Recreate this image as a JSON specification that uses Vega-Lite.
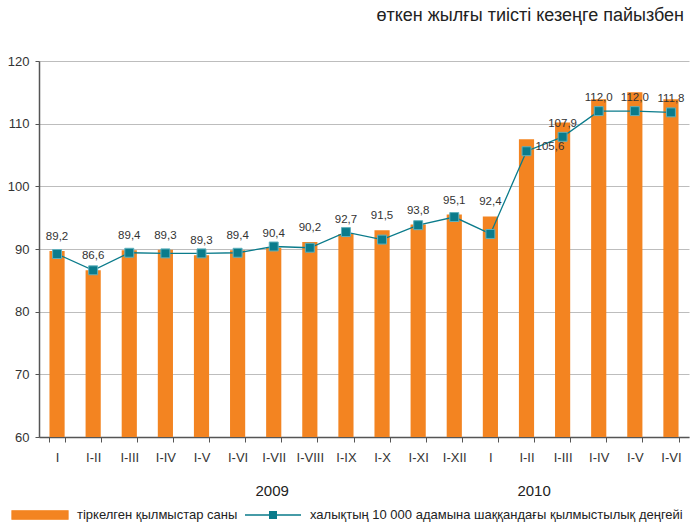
{
  "$schema": "https://vega.github.io/schema/vega-lite/v6.json",
  "width": 650,
  "height": 376,
  "autosize": {"type": "none"},
  "padding": {"left": 39, "top": 61, "right": 2, "bottom": 85},
  "background": "white",
  "title": {
    "text": "өткен жылғы тиісті кезеңге пайызбен",
    "anchor": "end",
    "frame": "group",
    "fontSize": 18,
    "fontWeight": "normal",
    "font": "Liberation Sans",
    "color": "#222222",
    "offset": 30,
    "dx": -5
  },
  "config": {
    "view": {"stroke": null},
    "font": "Liberation Sans",
    "locale": {"number": {"decimal": ",", "thousands": " ", "grouping": [3], "currency": ["", ""]}}
  },
  "data": {
    "values": [
      {"key": "2009|I", "year": "2009", "bar": 89.7, "line": 89.2},
      {"key": "2009|I-II", "year": "2009", "bar": 86.6, "line": 86.6},
      {"key": "2009|I-III", "year": "2009", "bar": 89.8, "line": 89.4},
      {"key": "2009|I-IV", "year": "2009", "bar": 89.9, "line": 89.3},
      {"key": "2009|I-V", "year": "2009", "bar": 89.0, "line": 89.3},
      {"key": "2009|I-VI", "year": "2009", "bar": 89.8, "line": 89.4},
      {"key": "2009|I-VII", "year": "2009", "bar": 90.2, "line": 90.4},
      {"key": "2009|I-VIII", "year": "2009", "bar": 91.1, "line": 90.2},
      {"key": "2009|I-IX", "year": "2009", "bar": 92.4, "line": 92.7},
      {"key": "2009|I-X", "year": "2009", "bar": 93.0, "line": 91.5},
      {"key": "2009|I-XI", "year": "2009", "bar": 93.9, "line": 93.8},
      {"key": "2009|I-XII", "year": "2009", "bar": 95.5, "line": 95.1},
      {"key": "2010|I", "year": "2010", "bar": 95.2, "line": 92.4},
      {"key": "2010|I-II", "year": "2010", "bar": 107.5, "line": 105.6},
      {"key": "2010|I-III", "year": "2010", "bar": 110.2, "line": 107.9},
      {"key": "2010|I-IV", "year": "2010", "bar": 113.9, "line": 112.0},
      {"key": "2010|I-V", "year": "2010", "bar": 115.0, "line": 112.0},
      {"key": "2010|I-VI", "year": "2010", "bar": 113.9, "line": 111.8}
    ]
  },
  "encoding": {
    "x": {
      "field": "key",
      "type": "ordinal",
      "sort": null,
      "scale": {"paddingInner": 0.58, "paddingOuter": 0.29},
      "axis": {
        "title": null,
        "labelExpr": "split(datum.value, '|')[1]",
        "labelAngle": 0,
        "labelFontSize": 13,
        "labelColor": "#333333",
        "labelPadding": 9,
        "tickBand": "extent",
        "tickSize": 5,
        "tickColor": "#555555",
        "domainColor": "#555555",
        "domainWidth": 1.5,
        "grid": false
      }
    }
  },
  "layer": [
    {
      "mark": {"type": "bar", "color": "#f38421", "clip": true},
      "encoding": {
        "y": {
          "field": "bar",
          "type": "quantitative",
          "scale": {"domain": [60, 120], "zero": false},
          "axis": {
            "title": null,
            "values": [60, 70, 80, 90, 100, 110, 120],
            "labelFontSize": 13,
            "labelColor": "#333333",
            "labelPadding": 6,
            "tickSize": 4,
            "tickColor": "#555555",
            "domainColor": "#555555",
            "domainWidth": 1.5,
            "gridColor": "#bdbdbd",
            "gridWidth": 1.2
          }
        },
        "color": {
          "datum": "тіркелген қылмыстар саны",
          "type": "nominal",
          "scale": {
            "domain": ["тіркелген қылмыстар саны", "халықтың 10 000 адамына шаққандағы қылмыстылық деңгейі"],
            "range": ["#f38421", "#0a7b8b"]
          },
          "legend": {
            "title": null,
            "orient": "none",
            "direction": "horizontal",
            "legendX": -28,
            "legendY": 425,
            "symbolSize": 3136,
            "labelFontSize": 13,
            "labelColor": "#222222",
            "labelOffset": 8,
            "columnPadding": 4,
            "labelLimit": 500,
            "encode": {
              "symbols": {
                "update": {
                  "shape": {"signal": "datum.value == 'тіркелген қылмыстар саны' ? 'M-1,-0.15H1V0.15H-1Z' : 'M-1,0H-0.12M0.12,0H1M-0.12,-0.12H0.12V0.12H-0.12Z'"},
                  "fill": {"signal": "datum.value == 'тіркелген қылмыстар саны' ? '#f38421' : '#0a7b8b'"},
                  "stroke": {"signal": "datum.value == 'тіркелген қылмыстар саны' ? 'transparent' : '#2a98a8'"},
                  "strokeWidth": {"value": 1.3},
                  "opacity": {"value": 1}
                }
              }
            }
          }
        }
      }
    },
    {
      "mark": {"type": "line", "color": "#2a98a8", "strokeWidth": 1.3},
      "encoding": {
        "y": {"field": "line", "type": "quantitative"},
        "color": {"datum": "халықтың 10 000 адамына шаққандағы қылмыстылық деңгейі", "type": "nominal"}
      }
    },
    {
      "mark": {"type": "point", "shape": "square", "size": 80, "filled": true, "fill": "#0a7b8b", "stroke": "#5fb0bc", "strokeWidth": 1, "opacity": 1},
      "encoding": {
        "y": {"field": "line", "type": "quantitative"}
      }
    },
    {
      "transform": [{"filter": "datum.year == '2009' || datum.key == '2010|I'"}],
      "mark": {"type": "text", "fontSize": 11.5, "color": "#333333", "dy": -14, "baseline": "middle"},
      "encoding": {
        "y": {"field": "bar", "type": "quantitative"},
        "text": {"field": "line", "type": "quantitative", "format": ".1f"}
      }
    },
    {
      "transform": [{"filter": "datum.year == '2010' && datum.key != '2010|I' && datum.key != '2010|I-II'"}],
      "mark": {"type": "text", "fontSize": 11.5, "color": "#333333", "dy": -13, "baseline": "middle"},
      "encoding": {
        "y": {"field": "line", "type": "quantitative"},
        "text": {"field": "line", "type": "quantitative", "format": ".1f"}
      }
    },
    {
      "transform": [{"filter": "datum.key == '2010|I-II'"}],
      "mark": {"type": "text", "fontSize": 11.5, "color": "#333333", "dx": 9, "dy": -4, "align": "left", "baseline": "middle"},
      "encoding": {
        "y": {"field": "line", "type": "quantitative"},
        "text": {"field": "line", "type": "quantitative", "format": ".1f"}
      }
    },
    {
      "data": {"values": [{"year": "2009"}]},
      "mark": {"type": "text", "fontSize": 15, "fontWeight": "normal", "color": "#222222", "baseline": "middle"},
      "encoding": {
        "x": {"datum": "2009|I-VII", "bandPosition": 0.4},
        "y": {"datum": 51.35},
        "text": {"field": "year", "type": "nominal"}
      }
    },
    {
      "data": {"values": [{"year": "2010"}]},
      "mark": {"type": "text", "fontSize": 15, "fontWeight": "normal", "color": "#222222", "baseline": "middle"},
      "encoding": {
        "x": {"datum": "2010|I-II", "bandPosition": 1},
        "y": {"datum": 51.35},
        "text": {"field": "year", "type": "nominal"}
      }
    }
  ]
}
